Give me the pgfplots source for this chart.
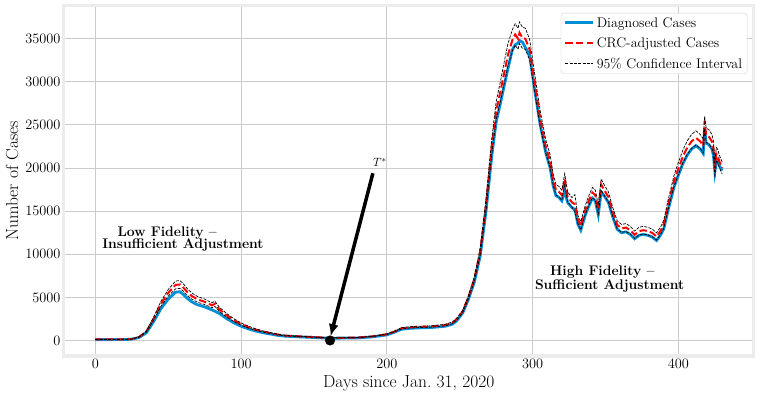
\documentclass[border=0pt]{standalone}
\usepackage{pgfplots}
\pgfplotsset{compat=1.18}
\usepackage{pgfplotstable}
\usetikzlibrary{arrows.meta}

\definecolor{diagblue}{RGB}{0,143,213}
\definecolor{gridgray}{RGB}{203,203,203}
\definecolor{spinegray}{RGB}{236,236,236}

% day  diagnosed  adjusted  lower  upper
\pgfplotstableread{
d    diag   adj    lo     hi
0    100    115    107    123
10   100    115    107    123
20   110    127    118    136
25   150    173    161    185
30   350    403    375    431
35   900    1035   963    1107
40   2200   2530   2353   2707
45   3700   4255   3957   4553
50   4800   5520   5134   5906
55   5600   6440   5989   6891
58   5650   6498   6043   6953
60   5400   6210   5775   6645
63   4900   5635   5241   6029
66   4500   5175   4813   5537
70   4150   4773   4439   5107
75   3900   4485   4171   4799
80   3550   4083   3797   4369
82   3400   4250   3950   4550
85   3150   3623   3369   3877
90   2550   2933   2728   3138
95   2050   2358   2193   2523
100  1650   1898   1765   2031
105  1350   1553   1444   1662
110  1100   1265   1176   1354
115  900    1035   963    1107
120  750    863    803    923
125  600    690    642    738
130  500    575    535    615
140  420    470    442    498
150  350    392    368    416
160  260    291    274    308
170  280    314    295    333
180  300    336    316    356
190  420    470    442    498
200  650    728    684    772
205  950    1026   975    1077
210  1300   1404   1334   1474
215  1400   1512   1436   1588
220  1450   1566   1488   1644
230  1500   1620   1539   1701
240  1650   1782   1693   1871
245  1900   2052   1949   2155
248  2300   2484   2360   2608
252  3200   3360   3226   3494
256  4800   5040   4838   5242
260  6800   7140   6854   7426
264  9800   10290  9878   10702
268  15000  15750  15120  16380
272  21500  22575  21672  23478
275  25400  26670  25603  27737
278  27600  28980  27821  30139
280  29200  30660  29434  31886
283  31500  33075  31752  34398
286  33700  34800  33582  36018
288  34300  35500  34258  36743
290  34500  35000  33775  36225
291  34800  35700  34450  36950
293  34600  35100  33872  36329
295  34000  35000  33775  36225
298  33000  33700  32520  34880
301  29500  30300  29240  31360
305  25200  25900  24994  26807
309  21800  22500  21713  23288
312  20000  20800  20072  21528
314  18000  18720  18065  19375
316  16800  17470  16859  18081
318  16600  17260  16656  17864
320  16200  16850  16260  17440
322  17300  18700  18046  19355
324  16000  16640  16058  17222
327  15400  16020  15459  16581
329  15200  15800  14900  16900
331  13500  14040  13549  14531
333  12800  13300  12835  13766
336  14500  15080  14552  15608
338  15400  16020  15459  16581
341  16500  17160  16559  17761
343  16200  16850  16260  17440
345  14600  15180  14649  15711
347  17200  18100  17467  18734
349  16800  17470  16859  18081
352  16000  16640  16058  17222
355  14300  14870  14350  15390
358  12900  13420  12950  13890
361  12500  13000  12545  13455
364  12600  13100  12642  13559
367  12300  12790  12342  13238
370  11800  12270  11841  12699
373  12200  12690  12246  13134
376  12300  12790  12342  13238
379  12200  12690  12246  13134
382  12000  12480  12043  12917
385  11600  12060  11638  12482
388  12300  12790  12342  13238
390  13000  13520  13047  13993
393  15200  15810  15257  16363
397  17800  18510  17862  19158
400  19200  19970  19271  20669
403  20500  21320  20574  22066
406  21500  22360  21577  23143
409  22200  23090  22282  23898
412  22600  23500  22678  24323
415  22200  23090  22282  23898
417  21700  22570  21780  23360
418  24500  25500  24600  26000
419  22900  23820  22986  24654
421  22700  23610  22784  24436
423  22200  23090  22282  23898
424  21500  22360  21577  23143
425  19600  19900  18900  20600
426  20800  21630  20873  22387
427  21000  21400  20651  22149
428  20300  20800  20072  21528
430  19700  20000  19300  20700
}\cases

\begin{document}
\begin{tikzpicture}
\begin{axis}[
    scale only axis,
    width=689.5bp, height=350bp,
    xmin=-21.5, xmax=451.5,
    ymin=-1800, ymax=38800,
    xtick={0,100,200,300,400},
    ytick={0,5000,10000,15000,20000,25000,30000,35000},
    scaled y ticks=false,
    yticklabel style={/pgf/number format/1000 sep={}},
    tick label style={font=\fontsize{14}{16}\selectfont},
    major tick length=0pt,
    grid=major,
    major grid style={draw=gridgray, line width=1bp},
    axis line style={draw=spinegray, line width=3bp},
    xlabel={Days since Jan.\ 31, 2020},
    ylabel={Number of Cases},
    label style={font=\fontsize{17.5}{20}\selectfont},
    legend cell align=left,
    legend style={at={(0.991,0.98)}, anchor=north east,
        draw=black!18, rounded corners=3bp, fill=white,
        font=\fontsize{14}{16}\selectfont,
        inner xsep=3bp, inner ysep=2bp, row sep=5bp,
        /tikz/every even column/.append style={column sep=5bp}},
    legend image code/.code={\draw[#1] (0bp,0bp) -- (28bp,0bp);},
]
\addplot[diagblue, line width=2.8bp] table[x=d, y=diag] {\cases};
\addlegendentry{Diagnosed Cases}
\addplot[red, line width=2bp, dash pattern=on 7.4bp off 3.2bp] table[x=d, y=adj] {\cases};
\addlegendentry{CRC-adjusted Cases}
\addplot[black, line width=0.7bp, dash pattern=on 3bp off 1.3bp] table[x=d, y=hi] {\cases};
\addlegendentry{95\% Confidence Interval}
\addplot[black, line width=0.7bp, dash pattern=on 3bp off 1.3bp, forget plot] table[x=d, y=lo] {\cases};

\addplot[only marks, mark=*, mark size=4.8bp, black, forget plot] coordinates {(161,0)};
\draw[-{Latex[length=12bp, width=10bp]}, line width=3.5bp, black]
    (axis cs:190.4,19400) -- (axis cs:161.4,500);
\node[anchor=base west, inner sep=0pt, font=\fontsize{13}{15}\selectfont]
    at (axis cs:190.4,20190) {$T^*$};

\node[align=center, inner sep=0pt, font=\fontsize{14}{12.6}\selectfont\bfseries]
    at (axis cs:60.1,11770) {Low Fidelity --\hspace*{31.6bp}\\Insufficient Adjustment};
\node[align=center, inner sep=0pt, font=\fontsize{14}{12.6}\selectfont\bfseries]
    at (axis cs:352.8,7130) {High Fidelity --\hspace*{14.6bp}\\Sufficient Adjustment};
\end{axis}
\path ([xshift=-64bp,yshift=-43bp]current axis.south west)
    rectangle ([xshift=5.5bp,yshift=6bp]current axis.north east);
\end{tikzpicture}
\end{document}
